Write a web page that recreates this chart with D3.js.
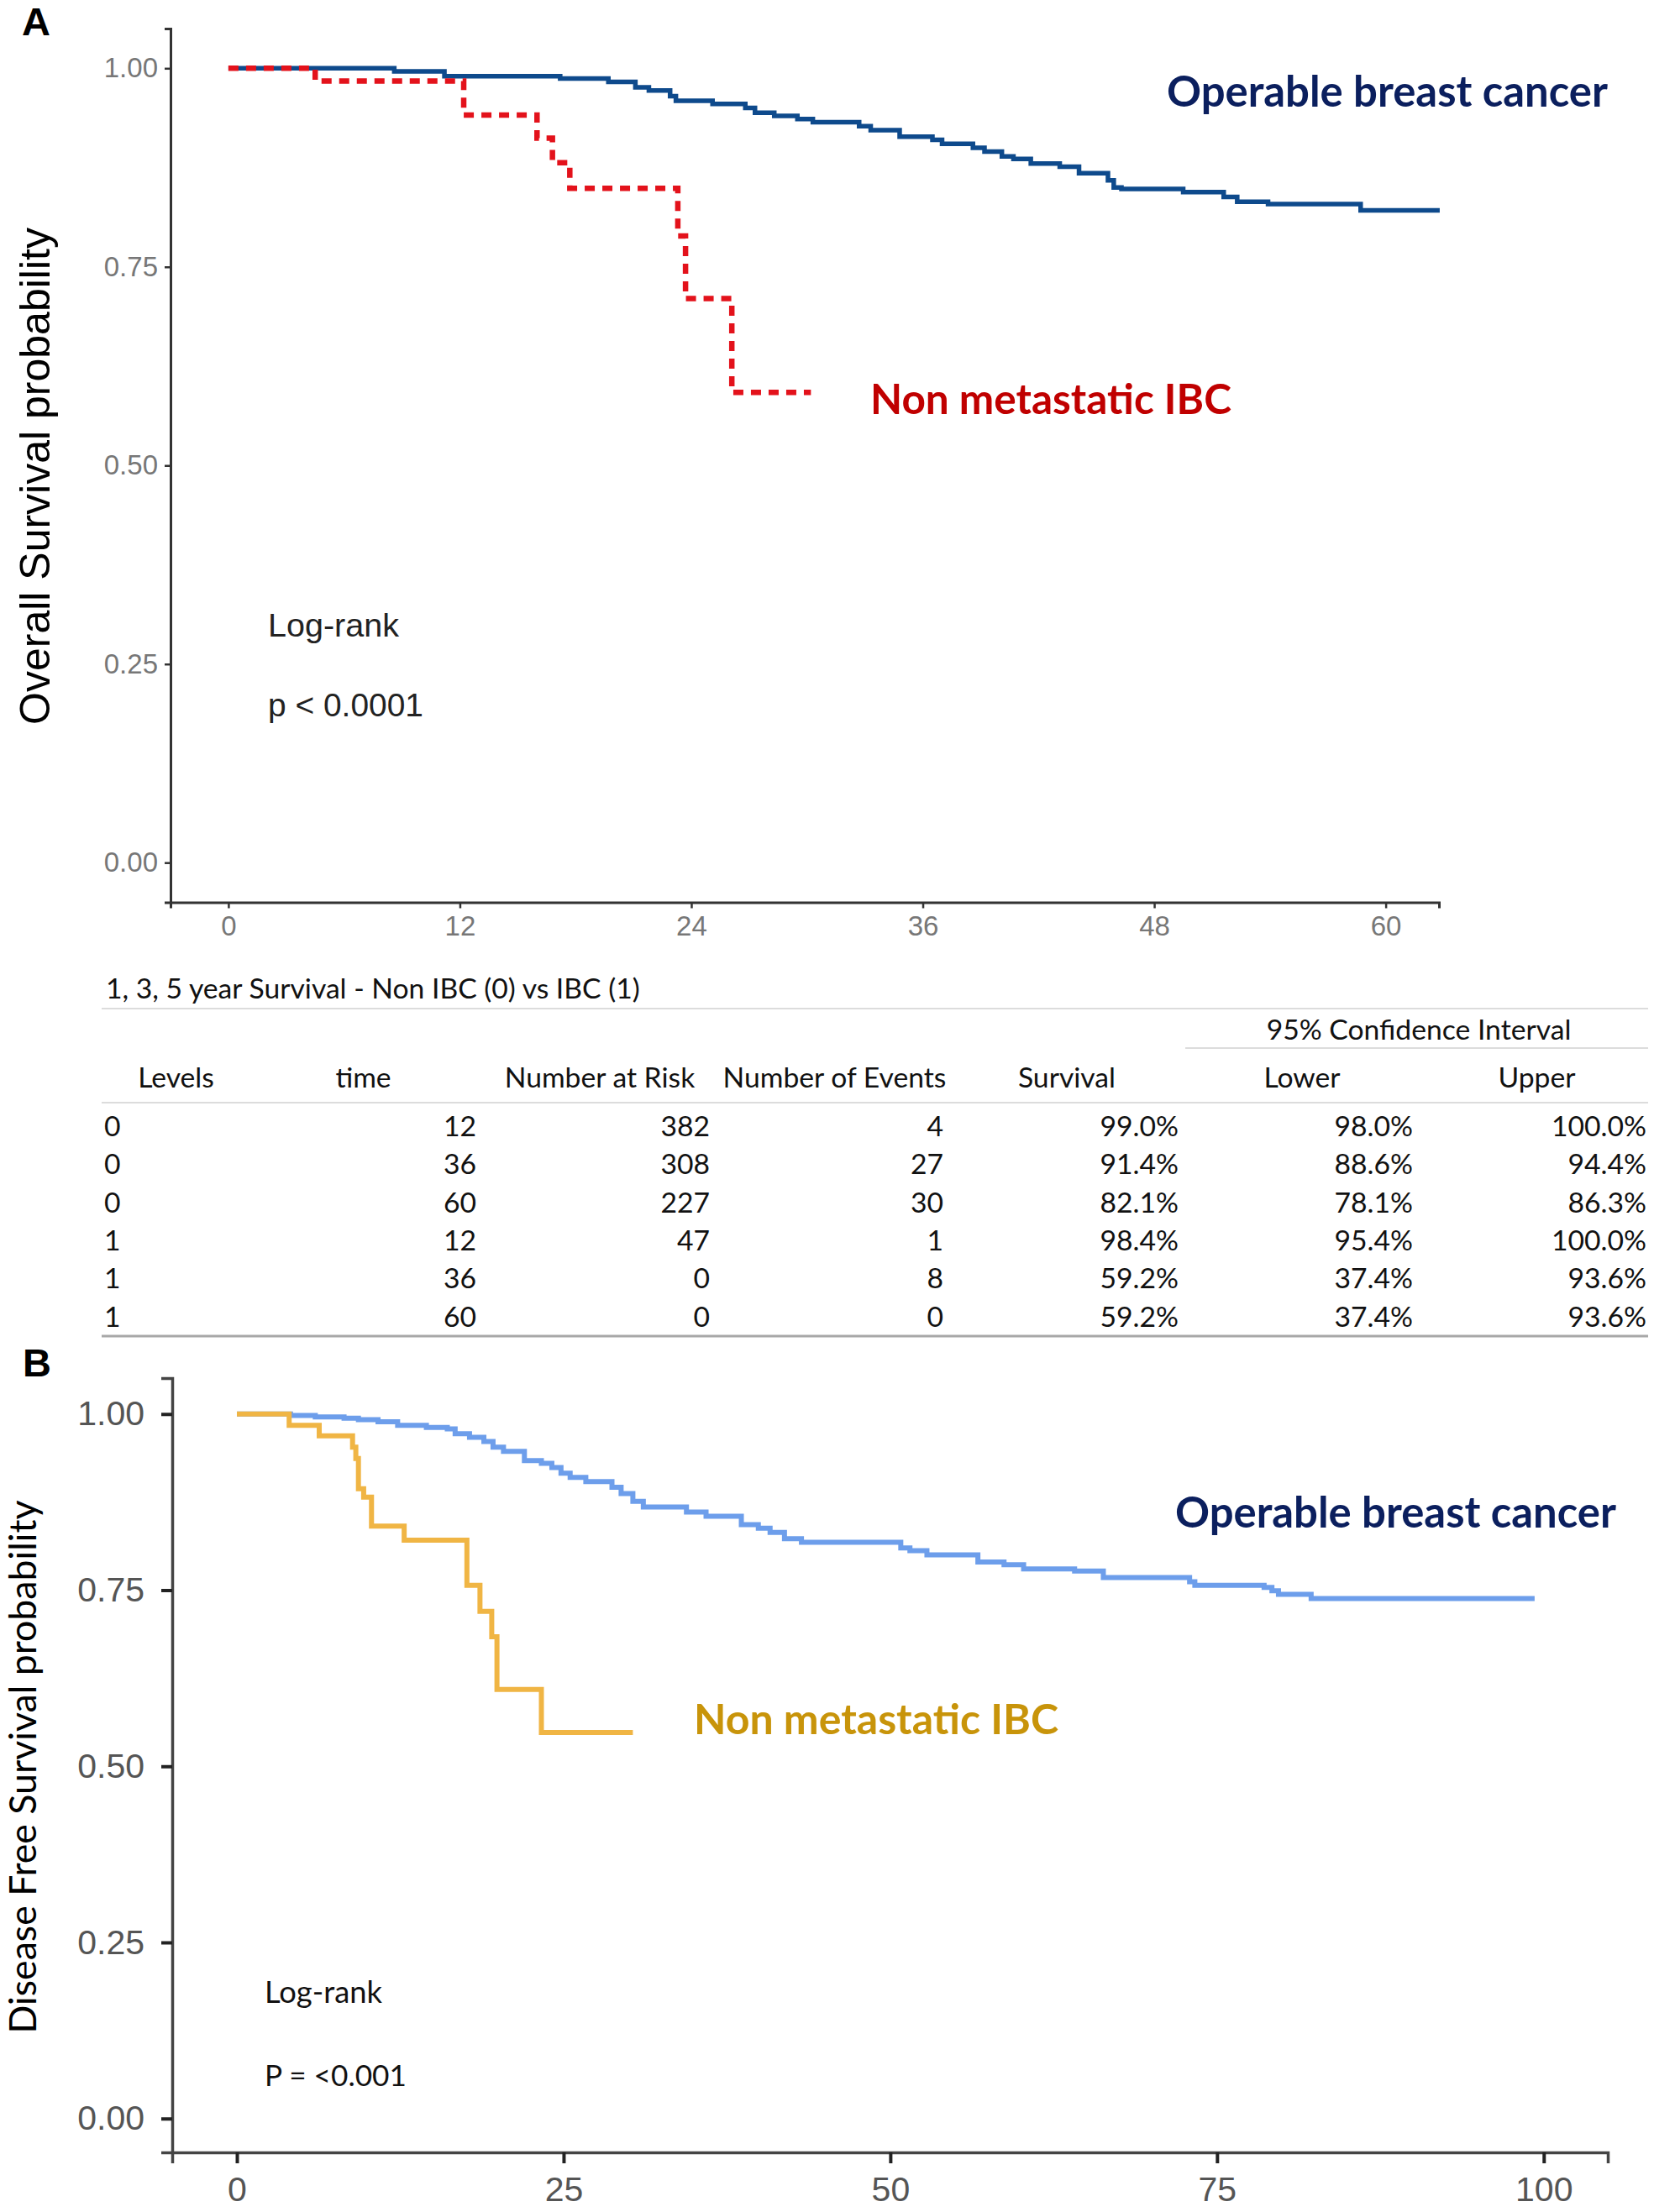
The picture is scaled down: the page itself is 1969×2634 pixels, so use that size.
<!DOCTYPE html>
<html>
<head>
<meta charset="utf-8">
<script src="https://cdn.jsdelivr.net/npm/d3@7"></script>
<style>
  body { margin: 0; background: #fff; }
  svg { display: block; }
</style>
</head>
<body>
<div id="chart"></div>
<script>
// --- panel A: overall survival (months) ---
var osTimeOp = [0, 8.6, 11.2, 17.2, 19.7, 21.1, 21.8, 22.9, 23.2, 25.1, 26.8, 27.3, 28.3, 29.5, 30.3, 32.7, 33.3, 34.8, 36.5, 37.0, 38.6, 39.2, 40.1, 40.7, 41.6, 43.1, 44.1, 45.6, 45.9, 46.3, 49.5, 51.6, 52.3, 53.9, 58.7, 62.8];
var osSurvOp = [1, 0.996, 0.990, 0.987, 0.983, 0.976, 0.972, 0.965, 0.959, 0.955, 0.950, 0.944, 0.940, 0.936, 0.932, 0.927, 0.922, 0.914, 0.910, 0.905, 0.900, 0.895, 0.889, 0.886, 0.880, 0.876, 0.868, 0.859, 0.850, 0.848, 0.844, 0.838, 0.832, 0.829, 0.821, 0.821];
var osTimeIbc = [0, 4.5, 12.2, 16.0, 16.8, 17.7, 23.3, 23.7, 26.1, 30.2];
var osSurvIbc = [1, 0.984, 0.941, 0.912, 0.881, 0.849, 0.789, 0.710, 0.592, 0.592];
var osXTicks = [0, 12, 24, 36, 48, 60];

// --- panel B: disease free survival ---
var dfsTimeOp = [0, 4.1, 6.0, 8.2, 9.3, 10.8, 12.3, 14.5, 16.1, 16.7, 17.8, 18.9, 19.6, 20.4, 22.0, 23.3, 24.1, 24.8, 25.5, 26.7, 28.7, 29.4, 30.3, 31.1, 34.4, 35.9, 38.6, 39.9, 40.8, 41.9, 43.2, 50.8, 51.5, 52.8, 56.7, 58.7, 60.2, 64.1, 66.3, 72.9, 73.3, 78.6, 79.2, 79.7, 82.2, 99.3];
var dfsSurvOp = [1, 0.998, 0.996, 0.994, 0.992, 0.989, 0.984, 0.981, 0.979, 0.972, 0.967, 0.961, 0.953, 0.947, 0.934, 0.930, 0.924, 0.916, 0.910, 0.904, 0.896, 0.887, 0.876, 0.868, 0.861, 0.855, 0.843, 0.838, 0.832, 0.823, 0.818, 0.810, 0.806, 0.800, 0.790, 0.786, 0.780, 0.777, 0.768, 0.762, 0.757, 0.754, 0.749, 0.744, 0.738, 0.738];
var dfsTimeIbc = [0, 4.0, 6.3, 8.85, 9.1, 9.3, 9.7, 10.3, 12.8, 17.6, 18.6, 19.5, 19.9, 23.3, 30.3];
var dfsSurvIbc = [1, 0.984, 0.969, 0.953, 0.937, 0.894, 0.882, 0.841, 0.821, 0.757, 0.720, 0.684, 0.609, 0.548, 0.548];
var dfsXTicks = [0, 25, 50, 75, 100];

var yTicks = [0, 0.25, 0.5, 0.75, 1];

// --- table: 1, 3, 5 year survival ---
var tblTitle = '1, 3, 5 year Survival - Non IBC (0) vs IBC (1)';
var tblHeaders = ['Levels', 'time', 'Number at Risk', 'Number of Events', 'Survival', 'Lower', 'Upper'];
var levels = ['0', '0', '0', '1', '1', '1'];
var times = [12, 36, 60, 12, 36, 60];
var atRisk = [382, 308, 227, 47, 0, 0];
var events = [4, 27, 30, 1, 8, 0];
var survival = [99.0, 91.4, 82.1, 98.4, 59.2, 59.2];
var lower = [98.0, 88.6, 78.1, 95.4, 37.4, 37.4];
var upper = [100.0, 94.4, 86.3, 100.0, 93.6, 93.6];

var W = 1969, H = 2634;
var svg = d3.select('#chart').append('svg')
	.attr('width', W)
	.attr('height', H);

var ARIAL = "'Liberation Sans', Arial, sans-serif";
var CAL = "Lato, 'Open Sans', sans-serif";

// scale font so the text spans a given width
function fit(t, w) {
	var cur = t.node().getComputedTextLength();
	var fs = parseFloat(t.attr('font-size'));
	t.attr('font-size', fs * w / cur);
	return t;
}

function kmData(ts, ss) {
	return ts.map(function (t, i) { return { t: t, s: ss[i] }; });
}

// ================= panel A =================
var xA = d3.scaleLinear().domain([-3, 62.76]).range([203, 1713]);
var yA = d3.scaleLinear().domain([-0.05, 1.05]).range([1074.5, 34]);

var gA = svg.append('g');

var axAy = gA.append('g').attr('transform', 'translate(203,0)')
	.call(d3.axisLeft(yA).tickValues(yTicks).tickFormat(d3.format('.2f')).tickSizeOuter(0).tickSize(7).tickPadding(8));
var axAx = gA.append('g').attr('transform', 'translate(0,1074.5)')
	.call(d3.axisBottom(xA).tickValues(osXTicks).tickSizeOuter(0).tickSize(7).tickPadding(9));
[axAy, axAx].forEach(function (a) {
	a.select('.domain').attr('stroke', '#333').attr('stroke-width', 3);
	a.selectAll('.tick line').attr('stroke', '#333').attr('stroke-width', 2.5);
	a.selectAll('.tick text').attr('font-family', ARIAL).attr('font-size', 33).attr('fill', '#777');
});

var lineA = d3.line().x(function (d) { return xA(d.t); }).y(function (d) { return yA(d.s); }).curve(d3.curveStepAfter);

gA.append('path').datum(kmData(osTimeOp, osSurvOp))
	.attr('d', lineA).attr('fill', 'none')
	.attr('stroke', '#0e4a8c').attr('stroke-width', 5.5);
gA.append('path').datum(kmData(osTimeIbc, osSurvIbc))
	.attr('d', lineA).attr('fill', 'none')
	.attr('stroke', '#e3121b').attr('stroke-width', 6.5)
	.attr('stroke-dasharray', '12,9');

gA.append('text').text('A').attr('x', 43).attr('y', 42)
	.attr('text-anchor', 'middle').attr('font-family', ARIAL).attr('font-weight', 'bold').attr('font-size', 47);

gA.append('text').text('Overall Survival probability')
	.attr('transform', 'translate(42,567) rotate(-90)')
	.attr('text-anchor', 'middle').attr('dominant-baseline', 'central')
	.attr('font-family', ARIAL).attr('font-size', 50).attr('fill', '#000');

fit(gA.append('text').text('Operable breast cancer').attr('x', 1389).attr('y', 127)
	.attr('font-family', CAL).attr('font-weight', 'bold').attr('font-size', 48).attr('fill', '#0b1f5e'), 525);
fit(gA.append('text').text('Non metastatic IBC').attr('x', 1036).attr('y', 493)
	.attr('font-family', CAL).attr('font-weight', 'bold').attr('font-size', 48).attr('fill', '#c00000'), 430);

fit(gA.append('text').text('Log-rank').attr('x', 319).attr('y', 758)
	.attr('font-family', ARIAL).attr('font-size', 36).attr('fill', '#222'), 156);
fit(gA.append('text').text('p < 0.0001').attr('x', 319).attr('y', 853)
	.attr('font-family', ARIAL).attr('font-size', 36).attr('fill', '#222'), 185);

// ================= table =================
var gT = svg.append('g').attr('font-family', CAL).attr('fill', '#111');

var tt = gT.append('text').text(tblTitle).attr('x', 126).attr('y', 1189).attr('font-size', 30);
fit(tt, 636);
var tfs = +tt.attr('font-size');

var hline = function (y, x1, x2, c, w) {
	gT.append('line').attr('x1', x1).attr('x2', x2).attr('y1', y).attr('y2', y)
		.attr('stroke', c).attr('stroke-width', w);
};
hline(1201, 121, 1962, '#dcdcdc', 2);
hline(1248, 1411, 1962, '#dcdcdc', 2);
hline(1313, 121, 1962, '#dcdcdc', 2);
hline(1591, 121, 1962, '#a8a8a8', 3);

gT.append('text').text('95% Confidence Interval').attr('x', 1689).attr('y', 1226 + 0.35 * tfs)
	.attr('text-anchor', 'middle').attr('font-size', tfs);

var hdrX = [209.5, 432.5, 714, 993.5, 1270, 1550, 1829.5];
gT.selectAll('text.hdr').data(tblHeaders).enter().append('text')
	.attr('class', 'hdr')
	.attr('x', function (d, i) { return hdrX[i]; })
	.attr('y', 1283 + 0.35 * tfs)
	.attr('text-anchor', 'middle').attr('font-size', tfs)
	.text(function (d) { return d; });

var pct = function (v) { return d3.format('.1f')(v) + '%'; };
var cols = [
	{ vals: levels, x: 124, anchor: 'start', f: String },
	{ vals: times, x: 567, anchor: 'end', f: String },
	{ vals: atRisk, x: 845, anchor: 'end', f: String },
	{ vals: events, x: 1123, anchor: 'end', f: String },
	{ vals: survival, x: 1403, anchor: 'end', f: pct },
	{ vals: lower, x: 1682, anchor: 'end', f: pct },
	{ vals: upper, x: 1960, anchor: 'end', f: pct }
];
var rowY = d3.scaleLinear().domain([0, 5]).range([1341, 1568]);
cols.forEach(function (c) {
	gT.selectAll(null).data(c.vals).enter().append('text')
		.attr('x', c.x)
		.attr('y', function (d, i) { return rowY(i) + 0.35 * tfs; })
		.attr('text-anchor', c.anchor).attr('font-size', tfs)
		.text(c.f);
});

// ================= panel B =================
var xB = d3.scaleLinear().domain([-4.95, 104.9]).range([205, 1914]);
var yB = d3.scaleLinear().domain([-0.048, 1.051]).range([2563, 1641]);

var gB = svg.append('g');

var axBy = gB.append('g').attr('transform', 'translate(205,0)')
	.call(d3.axisLeft(yB).tickValues(yTicks).tickFormat(d3.format('.2f')).tickSizeOuter(0).tickSize(13).tickPadding(20));
var axBx = gB.append('g').attr('transform', 'translate(0,2563)')
	.call(d3.axisBottom(xB).tickValues(dfsXTicks).tickSizeOuter(0).tickSize(13).tickPadding(16));
[axBy, axBx].forEach(function (a) {
	a.select('.domain').attr('stroke', '#444').attr('stroke-width', 3.5);
	a.selectAll('.tick line').attr('stroke', '#222').attr('stroke-width', 4);
	a.selectAll('.tick text').attr('font-family', ARIAL).attr('font-size', 41).attr('fill', '#555');
});

var lineB = d3.line().x(function (d) { return xB(d.t); }).y(function (d) { return yB(d.s); }).curve(d3.curveStepAfter);

gB.append('path').datum(kmData(dfsTimeOp, dfsSurvOp))
	.attr('d', lineB).attr('fill', 'none')
	.attr('stroke', '#6d9eeb').attr('stroke-width', 6);
gB.append('path').datum(kmData(dfsTimeIbc, dfsSurvIbc))
	.attr('d', lineB).attr('fill', 'none')
	.attr('stroke', '#f0b544').attr('stroke-width', 6);

gB.append('text').text('B').attr('x', 44).attr('y', 1639)
	.attr('text-anchor', 'middle').attr('font-family', ARIAL).attr('font-weight', 'bold').attr('font-size', 47);

fit(gB.append('text').text('Disease Free Survival probability')
	.attr('transform', 'translate(26,2104) rotate(-90)')
	.attr('text-anchor', 'middle').attr('dominant-baseline', 'central')
	.attr('font-family', CAL).attr('font-size', 42).attr('fill', '#000'), 635);

fit(gB.append('text').text('Operable breast cancer').attr('x', 1399).attr('y', 1819)
	.attr('font-family', CAL).attr('font-weight', 'bold').attr('font-size', 48).attr('fill', '#0b1f5e'), 525);
fit(gB.append('text').text('Non metastatic IBC').attr('x', 826).attr('y', 2065)
	.attr('font-family', CAL).attr('font-weight', 'bold').attr('font-size', 48).attr('fill', '#c8940a'), 434);

fit(gB.append('text').text('Log-rank').attr('x', 315).attr('y', 2385)
	.attr('font-family', CAL).attr('font-size', 34).attr('fill', '#111'), 140);
fit(gB.append('text').text('P = <0.001').attr('x', 315).attr('y', 2484)
	.attr('font-family', CAL).attr('font-size', 34).attr('fill', '#111'), 169);
</script>
</body>
</html>
